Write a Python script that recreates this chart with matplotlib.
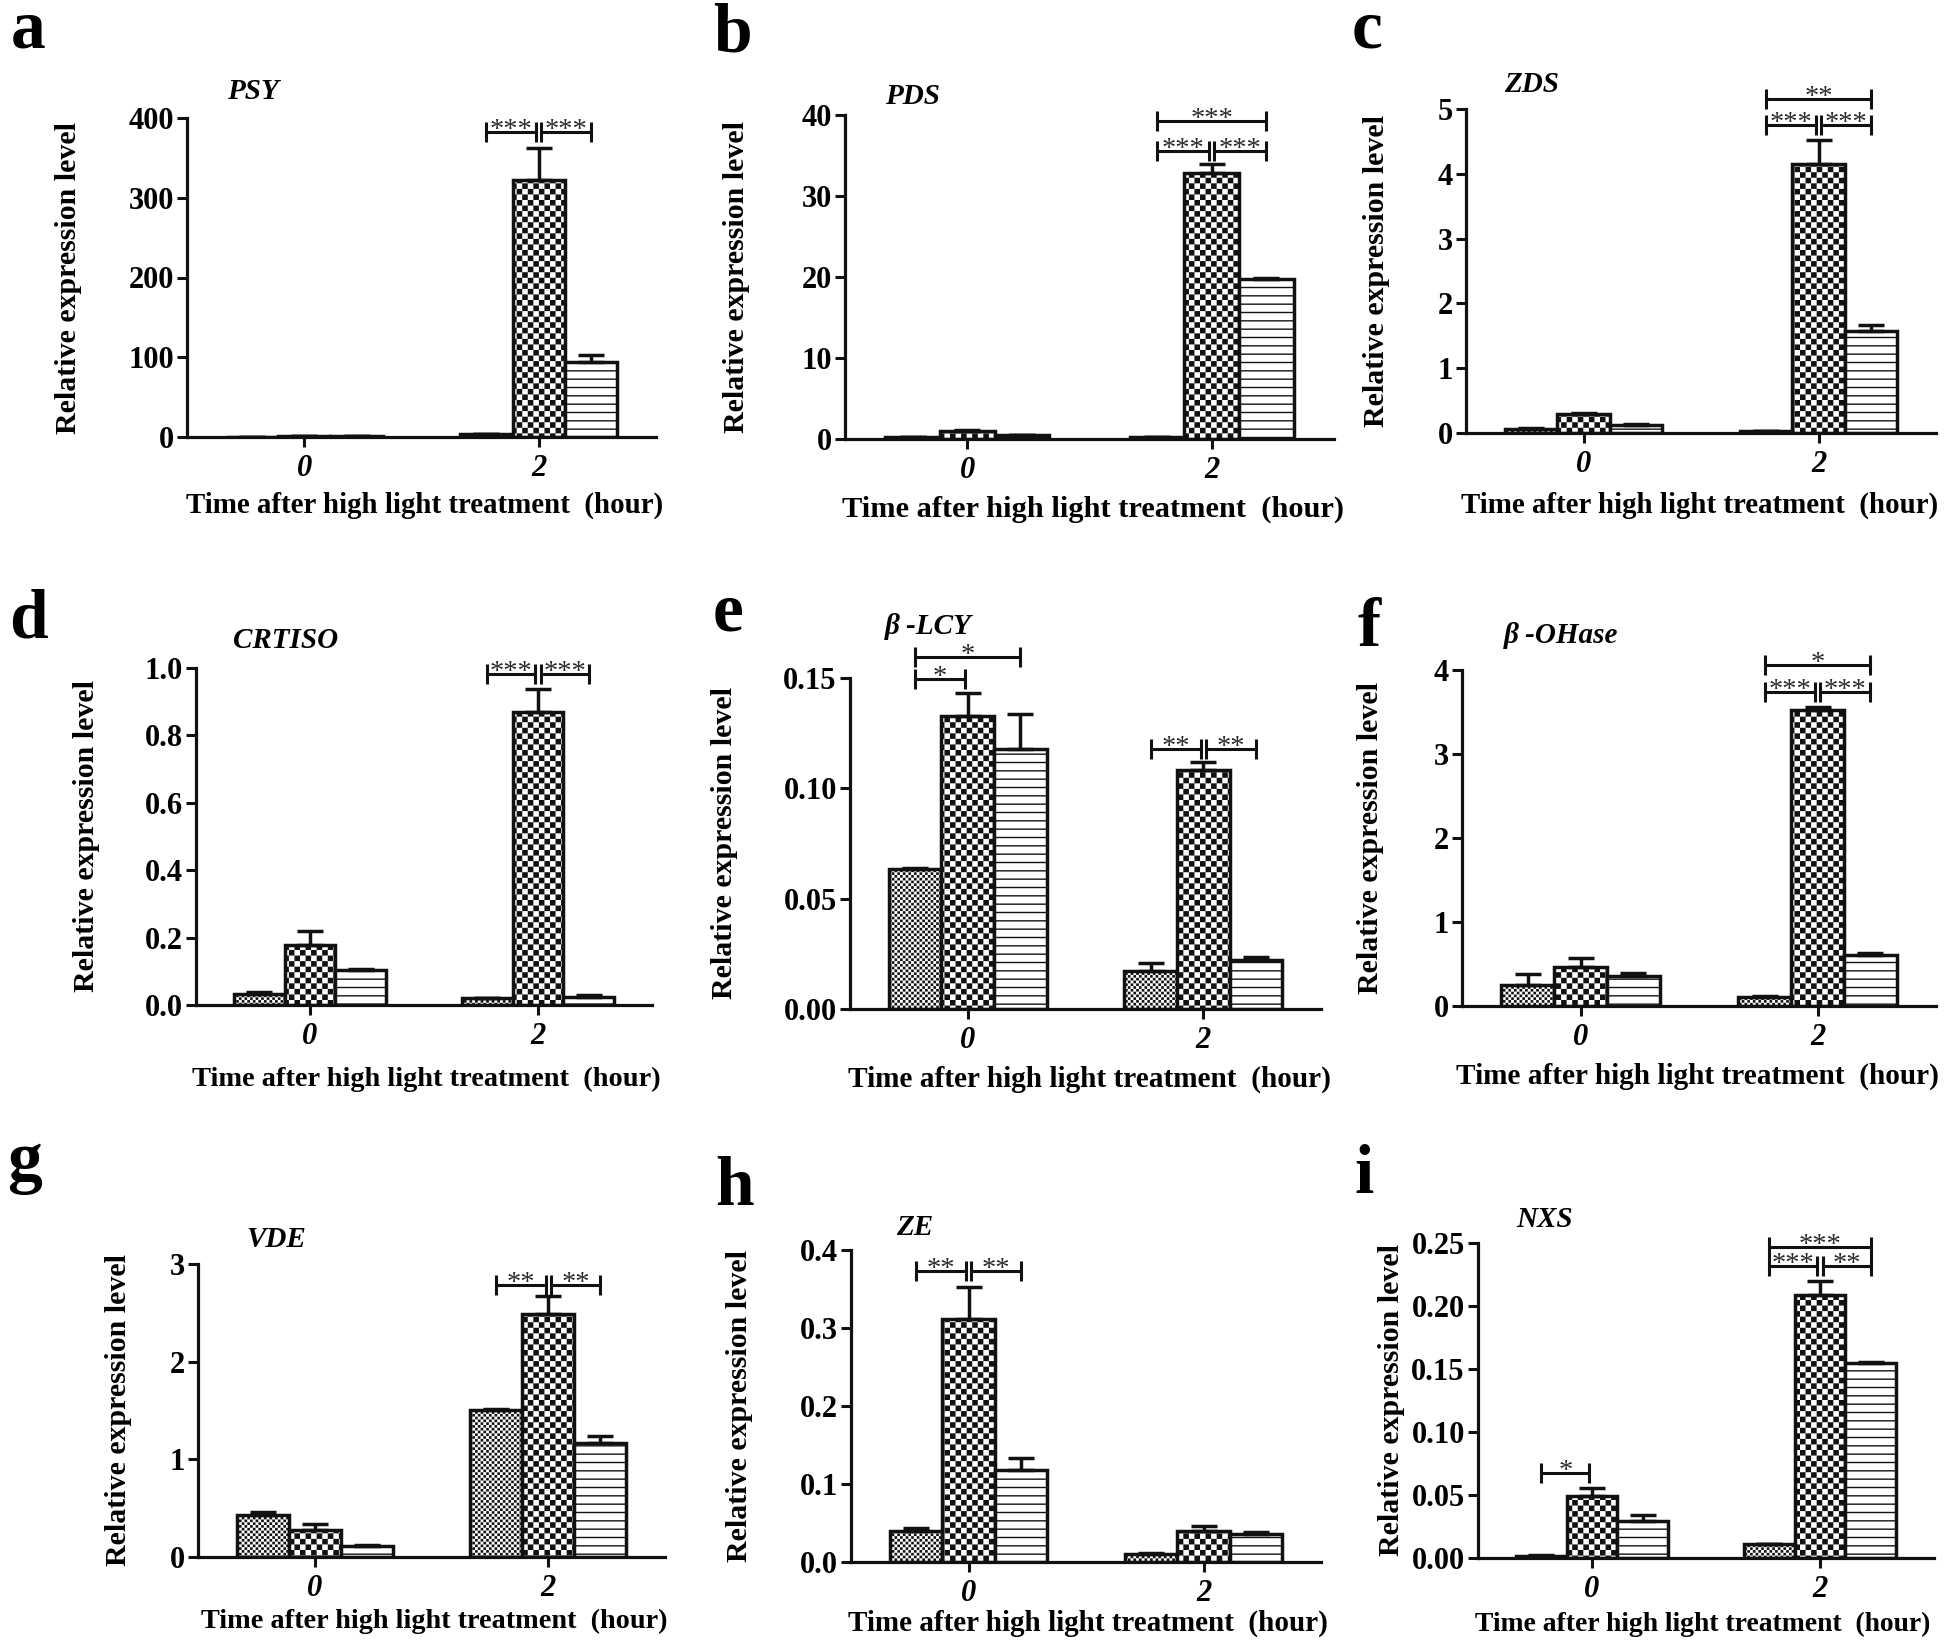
import numpy as np
import matplotlib
matplotlib.use("Agg")
import matplotlib.pyplot as plt
import matplotlib.hatch as mhatch
import matplotlib.transforms as mtrans
from matplotlib.path import Path

# ---------------- data ----------------
TIMES = ["0", "2"]
GENES = ["PSY", "PDS", "ZDS", "CRTISO", "β -LCY", "β -OHase", "VDE", "ZE", "NXS"]
LETTERS = ["a", "b", "c", "d", "e", "f", "g", "h", "i"]

# means: [series][time]  (series 1 = fine dots, 2 = checker, 3 = stripes)
PSY_MEAN = [[0.3, 4.0], [1.5, 322.0], [1.2, 94.0]]
PSY_ERR = [[0.0, 0.0], [0.0, 41.0], [0.0, 9.0]]
PDS_MEAN = [[0.3, 0.3], [1.0, 32.8], [0.5, 19.8]]
PDS_ERR = [[0.0, 0.0], [0.1, 1.1], [0.0, 0.1]]
ZDS_MEAN = [[0.06, 0.03], [0.29, 4.15], [0.13, 1.57]]
ZDS_ERR = [[0.01, 0.0], [0.02, 0.37], [0.01, 0.10]]
CRTISO_MEAN = [[0.033, 0.020], [0.178, 0.868], [0.103, 0.023]]
CRTISO_ERR = [[0.006, 0.002], [0.041, 0.070], [0.003, 0.008]]
LCY_MEAN = [[0.0635, 0.0171], [0.133, 0.1084], [0.118, 0.022]]
LCY_ERR = [[0.0005, 0.0036], [0.0102, 0.0034], [0.0155, 0.0016]]
OHASE_MEAN = [[0.255, 0.11], [0.465, 3.52], [0.362, 0.609]]
OHASE_ERR = [[0.128, 0.01], [0.103, 0.04], [0.028, 0.021]]
VDE_MEAN = [[0.427, 1.503], [0.273, 2.484], [0.113, 1.168]]
VDE_ERR = [[0.033, 0.017], [0.062, 0.186], [0.007, 0.069]]
ZE_MEAN = [[0.0403, 0.0107], [0.311, 0.0395], [0.118, 0.0365]]
ZE_ERR = [[0.003, 0.0013], [0.042, 0.0065], [0.015, 0.0021]]
NXS_MEAN = [[0.0018, 0.011], [0.0496, 0.2086], [0.029, 0.155]]
NXS_ERR = [[0.0003, 0.0005], [0.0058, 0.0114], [0.0053, 0.0005]]

MEANS = [PSY_MEAN, PDS_MEAN, ZDS_MEAN, CRTISO_MEAN, LCY_MEAN, OHASE_MEAN, VDE_MEAN, ZE_MEAN, NXS_MEAN]
ERRS = [PSY_ERR, PDS_ERR, ZDS_ERR, CRTISO_ERR, LCY_ERR, OHASE_ERR, VDE_ERR, ZE_ERR, NXS_ERR]

YMAX = [400, 40, 5, 1.0, 0.15, 4, 3, 0.4, 0.25]
YSTEP = [100, 10, 1, 0.2, 0.05, 1, 1, 0.1, 0.05]
YFMT = ["{:.0f}", "{:.0f}", "{:.0f}", "{:.1f}", "{:.2f}", "{:.0f}", "{:.0f}", "{:.1f}", "{:.2f}"]

# significance brackets: (time index, bar i, bar j, level, label)
SIG = [
    [(1, 0, 1, 383, "***"), (1, 1, 2, 383, "***")],
    [(1, 0, 1, 35.5, "***"), (1, 1, 2, 35.5, "***"), (1, 0, 2, 39.2, "***")],
    [(1, 0, 1, 4.75, "***"), (1, 1, 2, 4.75, "***"), (1, 0, 2, 5.15, "**")],
    [(1, 0, 1, 0.981, "***"), (1, 1, 2, 0.981, "***")],
    [(0, 0, 1, 0.1495, "*"), (0, 0, 2, 0.1594, "*"), (1, 0, 1, 0.118, "**"), (1, 1, 2, 0.118, "**")],
    [(1, 0, 1, 3.74, "***"), (1, 1, 2, 3.74, "***"), (1, 0, 2, 4.06, "*")],
    [(1, 0, 1, 2.79, "**"), (1, 1, 2, 2.79, "**")],
    [(0, 0, 1, 0.373, "**"), (0, 1, 2, 0.373, "**")],
    [(0, 0, 1, 0.0673, "*"), (1, 0, 1, 0.232, "***"), (1, 1, 2, 0.232, "**"), (1, 0, 2, 0.247, "***")],
]

# ---------------- layout (pixels in 1944x1646 figure) ----------------
W, H = 1944, 1646
AX_PX = [  # left, right, top(ymax), bottom(0)
    (187, 656, 118, 437), (845, 1334, 115, 439), (1466, 1936, 109, 433),
    (196, 652, 668, 1005), (850, 1321, 678, 1009), (1462, 1936, 670, 1006),
    (198, 665, 1264, 1557), (851, 1321, 1250, 1562), (1478, 1934, 1243, 1558),
]
LETTER_PX = [(11, 48), (713, 52), (1352, 48), (9, 638), (713, 631), (1358, 646),
             (7, 1180), (715, 1205), (1354, 1193)]
GENE_PX = [(227, 99), (885, 104), (1504, 92), (233, 648), (885, 634), (1504, 643),
           (246, 1247), (896, 1235), (1516, 1227)]
YLAB_X = [68, 737, 1376, 87, 724, 1370, 118, 739, 1391]
XLAB_PX = [(425, 505), (1093, 509), (1700, 505), (426, 1079), (1089, 1079), (1697, 1076),
           (434, 1621), (1088, 1623), (1703, 1624)]
XLAB_SIZE = [20.8, 21.9, 20.8, 20.4, 21.1, 21.1, 20.3, 21.0, 19.9]

# ---------------- custom checker hatches ----------------
class _CheckerBase(mhatch.HatchPatternBase):
    char = "O"
    fill = 0.75

    def __init__(self, hatch, density):
        n = int(hatch.count(self.char) * density)
        if n % 2:
            n += 1
        self.n = n
        self.num_vertices = (n * n // 2) * 5 if n else 0

    def set_vertices_and_codes(self, vertices, codes):
        n = self.n
        cell = 1.0 / n
        h = cell * self.fill / 2.0
        k = 0
        for i in range(n):
            for j in range(n):
                if (i + j) % 2 == 0:
                    cx = (i + 0.5) * cell
                    cy = (j + 0.5) * cell
                    vertices[k:k + 5] = [[cx - h, cy - h], [cx + h, cy - h],
                                         [cx + h, cy + h], [cx - h, cy + h],
                                         [cx - h, cy - h]]
                    codes[k:k + 5] = [Path.MOVETO, Path.LINETO, Path.LINETO,
                                      Path.LINETO, Path.CLOSEPOLY]
                    k += 5


class CoarseChecker(_CheckerBase):
    char = "O"
    fill = 0.75


class FineChecker(_CheckerBase):
    char = "o"
    fill = 0.45


mhatch._hatch_types = [mhatch.HorizontalHatch, mhatch.VerticalHatch,
                       mhatch.NorthEastHatch, mhatch.SouthEastHatch,
                       CoarseChecker, FineChecker,
                       mhatch.SmallFilledCircles, mhatch.Stars]

HATCHES = ["oooooo", "OOO", "--"]

# ---------------- style ----------------
plt.rcParams["font.family"] = ["Liberation Serif", "DejaVu Serif"]
plt.rcParams["hatch.linewidth"] = 1.0
INK = "#111111"
BW = 0.223
LW = 2.5

fig = plt.figure(figsize=(W / 100, H / 100), dpi=100)
fig.patch.set_facecolor("white")

for k in range(9):
    l, r, t, b = AX_PX[k]
    ax = fig.add_axes([l / W, 1 - b / H, (r - l) / W, (b - t) / H])
    ax_h_px = b - t
    ymax = YMAX[k]
    mean = MEANS[k]
    err = ERRS[k]
    xg = np.arange(len(TIMES))
    for s in range(3):
        xs = xg + (s - 1) * BW
        ax.bar(xs, mean[s], BW, color="white", edgecolor=INK, linewidth=LW,
               hatch=HATCHES[s], zorder=2)
        ax.errorbar(xs, mean[s], yerr=[np.zeros(len(xs)), err[s]], fmt="none",
                    ecolor=INK, elinewidth=LW, capsize=9.5, capthick=LW, zorder=3)

    ax.set_xlim(-0.5, 1.5)
    ax.set_ylim(0, ymax)
    for side in ("top", "right"):
        ax.spines[side].set_visible(False)
    for side in ("left", "bottom"):
        ax.spines[side].set_linewidth(2.3)
        ax.spines[side].set_color(INK)
        ax.spines[side].set_capstyle("projecting")

    yt = np.arange(0, ymax + YSTEP[k] / 2, YSTEP[k])
    ax.set_yticks(yt)
    ax.set_yticklabels([YFMT[k].format(v) for v in yt], fontsize=22, fontweight="bold")
    ax.set_xticks(xg)
    ax.set_xticklabels(TIMES, fontsize=22, fontweight="bold", fontstyle="italic")
    ax.tick_params(axis="y", direction="out", length=7.5, width=2.2, pad=2, color=INK)
    ax.tick_params(axis="x", direction="out", length=7, width=2.2, pad=5, color=INK)

    # significance brackets
    dy = 10.0 / ax_h_px * ymax
    gap = 0.011
    for (g, i, j, yv, lab) in SIG[k]:
        x1 = g + (i - 1) * BW
        x2 = g + (j - 1) * BW
        if j == 1:
            x2 -= gap
        if i == 1:
            x1 += gap
        ax.plot([x1, x2], [yv, yv], color=INK, lw=2.2, clip_on=False, zorder=4,
                solid_capstyle="butt")
        for xx in (x1, x2):
            ax.plot([xx, xx], [yv - dy, yv + dy], color=INK, lw=2.2, clip_on=False,
                    zorder=4, solid_capstyle="butt")
        tr = mtrans.offset_copy(ax.transData, fig=fig, x=0, y=-3.6, units="points")
        ax.text((x1 + x2) / 2, yv, lab, transform=tr, ha="center", va="baseline",
                fontsize=20.5, color="#2a2a2a", clip_on=False, zorder=5)

    # labels
    fig.text(YLAB_X[k] / W, 1 - ((t + b) / 2) / H, "Relative expression level",
             rotation=90, ha="center", va="center", fontsize=21.5, fontweight="bold")
    xl, yl = XLAB_PX[k]
    fig.text(xl / W, 1 - yl / H, "Time after high light treatment  (hour)",
             ha="center", va="center", fontsize=XLAB_SIZE[k], fontweight="bold")
    gx, gy = GENE_PX[k]
    fig.text(gx / W, 1 - gy / H, GENES[k], ha="left", va="baseline", fontsize=21,
             fontweight="bold", fontstyle="italic")
    lx, ly = LETTER_PX[k]
    fig.text(lx / W, 1 - ly / H, LETTERS[k], ha="left", va="baseline", fontsize=50,
             fontweight="bold")

fig.savefig("out.png", dpi=100, facecolor="white")
